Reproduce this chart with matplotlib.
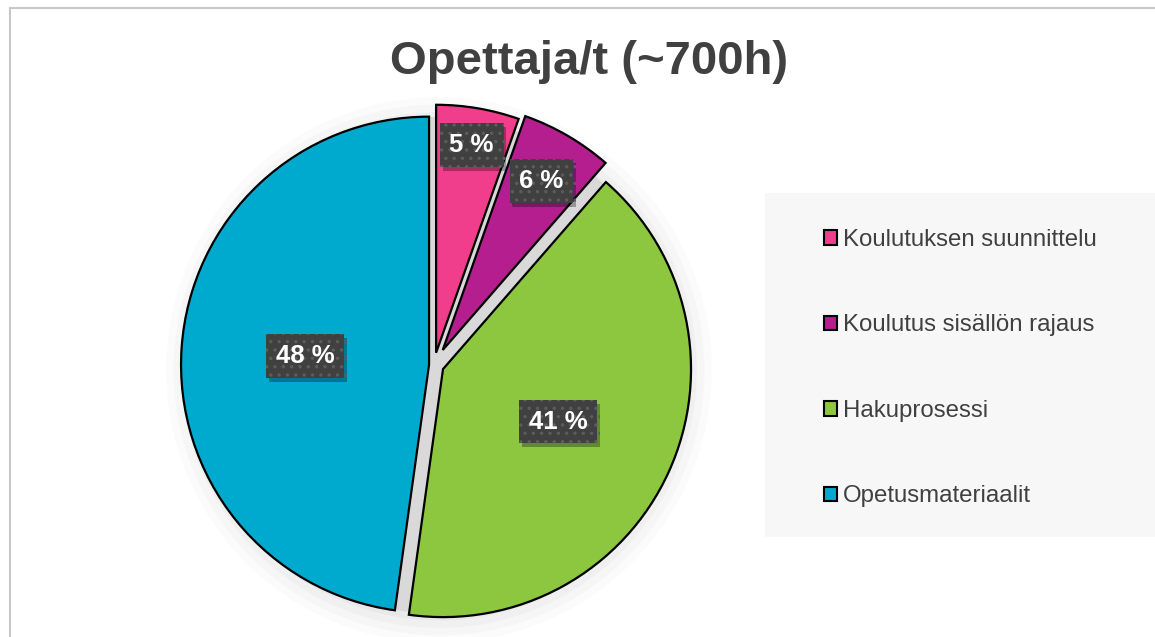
import numpy as np
import matplotlib
matplotlib.use('Agg')
import matplotlib.pyplot as plt
from matplotlib.patches import Patch, Rectangle, Circle
from matplotlib.lines import Line2D
import matplotlib.patheffects as pe

plt.rcParams['font.family'] = ['Liberation Sans', 'DejaVu Sans']
plt.rcParams['hatch.linewidth'] = 1.2

title = 'Opettaja/t (~700h)'
labels = ['Koulutuksen suunnittelu', 'Koulutus sisällön rajaus', 'Hakuprosessi', 'Opetusmateriaalit']
shares = [5.4, 6.0, 40.8, 47.8]
colors = ['#F03E8C', '#B51E8F', '#8DC63F', '#00AACE']
explode = [0.05, 0.07, 0.04, 0.02]
label_dist = [0.85, 0.79, 0.51, 0.50]

W, H = 1155, 637
fig = plt.figure(figsize=(W / 100, H / 100), dpi=100)
fig.patch.set_facecolor('white')

# chart frame (only top and left visible in the crop)
fig.add_artist(Line2D([10 / W, 1], [1 - 8 / H, 1 - 8 / H], color='#c8c8c8', lw=1.5))
fig.add_artist(Line2D([10 / W, 10 / W], [0, 1 - 8 / H], color='#c8c8c8', lw=1.5))

fig.text(589 / W, 1 - 62 / H, title, ha='center', va='center',
         fontsize=34, fontweight='bold', color='#404040')

# pie axes, square in pixels
cx, cy, R, half = 434, 365, 248, 285
ax = fig.add_axes([(cx - half) / W, (H - cy - half) / H, 2 * half / W, 2 * half / H])
L = half / R

# soft shadow + gray gaps behind the slices
for k, a in enumerate([0.04, 0.05, 0.06, 0.08]):
    ax.add_patch(Circle((0.02, -0.02), 1.10 - 0.03 * k, color='#9a9a9a', alpha=a, lw=0))
ax.add_patch(Circle((0, 0), 1.0, color='#d9d9d9', lw=0))

wedges, _ = ax.pie(shares, colors=colors, explode=explode, startangle=90,
                   counterclock=False,
                   wedgeprops=dict(edgecolor='black', linewidth=1.6))

for w, s, d in zip(wedges, shares, label_dist):
    th = np.deg2rad((w.theta1 + w.theta2) / 2)
    x = w.center[0] + d * w.r * np.cos(th)
    y = w.center[1] + d * w.r * np.sin(th)
    t = ax.text(x, y, f'{round(s)} %', ha='center', va='center', fontsize=18.5,
                fontweight='bold', color='white',
                bbox=dict(boxstyle='square,pad=0.38', facecolor='#404040',
                          edgecolor='#5c5c5c', linewidth=0, hatch='..'))
    t.get_bbox_patch().set_path_effects([
        pe.withSimplePatchShadow(offset=(2, -3), shadow_rgbFace='black', alpha=0.3)])

ax.set_xlim(-L, L)
ax.set_ylim(-L, L)
ax.axis('off')

# legend panel
fig.add_artist(Rectangle((765 / W, 1 - 537 / H), (W - 765) / W, (537 - 193) / H,
                         transform=fig.transFigure, facecolor='#f7f7f7',
                         edgecolor='none', zorder=0))
handles = [Patch(facecolor=c, edgecolor='black', linewidth=1.5) for c in colors]
fig.legend(handles, labels, loc='upper left', bbox_to_anchor=(812 / W, 1 - 217 / H),
           frameon=False, fontsize=17.3, labelcolor='#404040',
           handlelength=0.55, handleheight=0.55, handletextpad=0.25,
           labelspacing=2.64, borderpad=0)

fig.savefig('out.png', dpi=100, facecolor='white')
